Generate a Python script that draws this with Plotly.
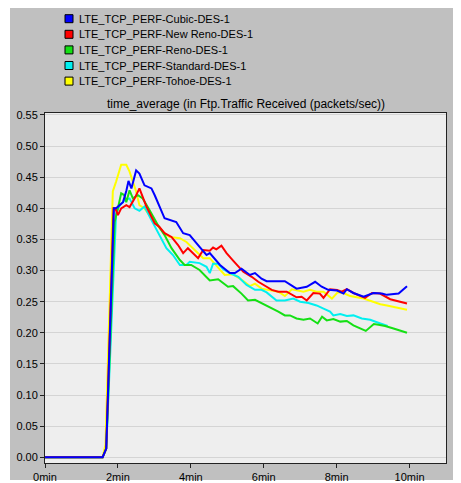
import plotly.graph_objects as go

# ---------------- data ----------------
series_names = [
    "LTE_TCP_PERF-Cubic-DES-1",
    "LTE_TCP_PERF-New Reno-DES-1",
    "LTE_TCP_PERF-Reno-DES-1",
    "LTE_TCP_PERF-Standard-DES-1",
    "LTE_TCP_PERF-Tohoe-DES-1",
]
series_colors = ["#0000ff", "#ff0000", "#14e014", "#00f0f0", "#ffff00"]

cubic_t = [0, 1.58, 1.68, 1.89, 1.95, 2.05, 2.14, 2.23, 2.29, 2.37, 2.50, 2.59, 2.73, 2.92, 3.01,
           3.28, 3.60, 3.79, 3.97, 4.24, 4.43, 4.52, 4.80, 5.07, 5.21, 5.39, 5.62, 5.76, 5.94,
           6.08, 6.31, 6.58, 6.90, 7.18, 7.41, 7.59, 7.77, 8.01, 8.19, 8.28, 8.46, 8.74, 9.01,
           9.24, 9.38, 9.70, 9.93]
cubic_v = [0, 0, 0.014, 0.400, 0.400, 0.405, 0.410, 0.428, 0.444, 0.432, 0.461, 0.456, 0.437, 0.432, 0.421,
           0.384, 0.378, 0.360, 0.357, 0.338, 0.325, 0.328, 0.309, 0.296, 0.296, 0.303, 0.293, 0.296, 0.287,
           0.283, 0.283, 0.283, 0.271, 0.274, 0.282, 0.274, 0.269, 0.268, 0.263, 0.270, 0.264, 0.258, 0.264,
           0.263, 0.261, 0.263, 0.275]

newreno_t = [0, 1.58, 1.68, 1.88, 1.93, 2.00, 2.09, 2.23, 2.32, 2.46, 2.59, 2.78, 3.01, 3.14, 3.28,
             3.47, 3.65, 3.79, 3.92, 4.20, 4.34, 4.52, 4.61, 4.70, 4.84, 4.98, 5.16, 5.44, 5.67, 5.85,
             6.08, 6.22, 6.40, 6.63, 6.90, 7.04, 7.18, 7.36, 7.54, 7.64, 7.82, 8.01, 8.14, 8.28,
             8.46, 8.78, 8.97, 9.19, 9.47, 9.70, 9.93]
newreno_v = [0, 0, 0.014, 0.400, 0.400, 0.389, 0.400, 0.405, 0.402, 0.416, 0.432, 0.403, 0.376, 0.370, 0.360,
             0.354, 0.341, 0.328, 0.336, 0.320, 0.333, 0.332, 0.337, 0.334, 0.340, 0.328, 0.316, 0.298, 0.290, 0.282,
             0.274, 0.269, 0.266, 0.266, 0.257, 0.258, 0.252, 0.264, 0.263, 0.256, 0.270, 0.269, 0.266, 0.270,
             0.264, 0.256, 0.264, 0.263, 0.254, 0.250, 0.247]

reno_t = [0, 1.58, 1.68, 1.91, 2.00, 2.09, 2.18, 2.23, 2.32, 2.41, 2.55, 2.68, 2.87, 3.10, 3.28,
          3.47, 3.70, 3.83, 4.01, 4.24, 4.52, 4.75, 5.02, 5.16, 5.39, 5.57, 5.76, 5.94, 6.17,
          6.40, 6.58, 6.72, 6.90, 7.09, 7.27, 7.48, 7.60, 7.73, 7.91, 8.10, 8.28, 8.46, 8.80,
          9.02, 9.15, 9.33, 9.56, 9.93]
reno_v = [0, 0, 0.014, 0.378, 0.400, 0.424, 0.421, 0.410, 0.429, 0.416, 0.421, 0.416, 0.397, 0.373, 0.357,
          0.336, 0.317, 0.309, 0.309, 0.301, 0.284, 0.286, 0.274, 0.275, 0.263, 0.252, 0.253, 0.248, 0.241,
          0.234, 0.228, 0.228, 0.223, 0.221, 0.223, 0.215, 0.226, 0.220, 0.222, 0.218, 0.219, 0.212, 0.203,
          0.214, 0.213, 0.211, 0.207, 0.200]

standard_t = [0, 1.58, 1.68, 1.93, 1.95, 2.05, 2.18, 2.32, 2.46, 2.59, 2.73, 2.92, 3.14, 3.33, 3.51,
              3.70, 3.88, 3.97, 4.24, 4.43, 4.52, 4.61, 4.75, 4.89, 5.07, 5.30, 5.53, 5.76, 5.94,
              6.08, 6.35, 6.58, 6.81, 7.00, 7.23, 7.45, 7.64, 7.82, 7.91, 8.10, 8.28, 8.46, 8.69,
              8.92, 9.20, 9.40]
standard_v = [0, 0, 0.014, 0.370, 0.392, 0.405, 0.413, 0.416, 0.400, 0.396, 0.403, 0.381, 0.357, 0.336, 0.325,
              0.309, 0.309, 0.314, 0.312, 0.306, 0.296, 0.311, 0.311, 0.302, 0.296, 0.290, 0.277, 0.269, 0.269,
              0.265, 0.252, 0.252, 0.255, 0.250, 0.248, 0.244, 0.239, 0.234, 0.228, 0.230, 0.227, 0.228, 0.223,
              0.221, 0.215, 0.211]

tohoe_t = [0, 1.58, 1.66, 1.84, 1.86, 1.95, 2.09, 2.23, 2.32, 2.41, 2.50, 2.59, 2.73, 2.96, 3.24,
           3.42, 3.70, 3.88, 4.15, 4.34, 4.52, 4.66, 4.93, 5.16, 5.35, 5.62, 5.76, 5.94, 6.13,
           6.40, 6.58, 6.77, 7.09, 7.27, 7.45, 7.64, 7.87, 8.03, 8.19, 8.37, 8.74, 8.92, 9.20,
           9.38, 9.66, 9.93]
tohoe_v = [0, 0, 0.020, 0.400, 0.427, 0.443, 0.470, 0.470, 0.459, 0.443, 0.427, 0.405, 0.400, 0.381, 0.362,
           0.354, 0.352, 0.346, 0.330, 0.320, 0.320, 0.311, 0.293, 0.294, 0.287, 0.275, 0.279, 0.271, 0.269,
           0.266, 0.259, 0.270, 0.266, 0.269, 0.266, 0.266, 0.255, 0.265, 0.264, 0.259, 0.255, 0.251, 0.246,
           0.244, 0.241, 0.237]

x_tick_vals = [0, 2, 4, 6, 8, 10]
x_tick_text = ["0min", "2min", "4min", "6min", "8min", "10min"]
chart_title = "time_average (in Ftp.Traffic Received (packets/sec))"

series_t = [cubic_t, newreno_t, reno_t, standard_t, tohoe_t]
series_v = [cubic_v, newreno_v, reno_v, standard_v, tohoe_v]

# ---------------- layout geometry ----------------
# the page body has an 8px margin, so the figure starts 8px in from the window edge
OFF = 8
W, H = 461 - OFF, 483 - OFF
ML, MT = 45 - OFF, 113 - OFF
PW, PH = 446 - 45, 463 - 113
MR, MB = W - ML - PW, H - MT - PH


def xp(px):
    """window pixel x -> paper coordinate"""
    return (px - OFF - ML) / PW


def yp(py):
    """window pixel y -> paper coordinate"""
    return (MT + PH - (py - OFF)) / PH


FONT = "Liberation Sans, Arial, sans-serif"

fig = go.Figure()

# draw in reverse so Cubic ends on top
for i in reversed(range(len(series_names))):
    fig.add_trace(go.Scatter(
        x=series_t[i], y=series_v[i], mode="lines", name=series_names[i],
        line=dict(color=series_colors[i], width=2), showlegend=False,
        hoverinfo="x+y+name",
    ))

shapes = [
    # gray window background
    dict(type="rect", xref="paper", yref="paper", x0=xp(10), x1=xp(470), y0=yp(480), y1=yp(7),
         fillcolor="#c0c0c0", line=dict(width=0), layer="below"),
    # plot area background
    dict(type="rect", xref="paper", yref="paper", x0=0, x1=1, y0=0, y1=1,
         fillcolor="#eeeeee", line=dict(width=0), layer="below"),
]
annotations = [
    dict(text=chart_title, xref="paper", yref="paper", x=xp(245.5), y=yp(104),
         xanchor="center", yanchor="middle", showarrow=False,
         font=dict(family=FONT, size=12, color="#000000")),
]
row0, row_gap = 18.7, 15.6
for i, name in enumerate(series_names):
    cy = row0 + i * row_gap
    shapes.append(dict(type="rect", xref="paper", yref="paper",
                       x0=xp(65), x1=xp(73), y0=yp(cy + 4), y1=yp(cy - 4),
                       fillcolor=series_colors[i], line=dict(color="#000000", width=1)))
    annotations.append(dict(text=name, xref="paper", yref="paper", x=xp(77), y=yp(cy),
                            xanchor="left", yanchor="middle", showarrow=False,
                            font=dict(family=FONT, size=11, color="#000000")))

fig.update_layout(
    width=W, height=H,
    margin=dict(l=ML, r=MR, t=MT, b=MB, pad=0),
    paper_bgcolor="#ffffff",
    plot_bgcolor="rgba(0,0,0,0)",
    showlegend=False,
    shapes=shapes,
    annotations=annotations,
    font=dict(family=FONT, size=11, color="#000000"),
    xaxis=dict(
        range=[0, 11], tickvals=x_tick_vals, ticktext=x_tick_text,
        showgrid=False, zeroline=False, showline=True, mirror=True,
        linecolor="#222222", linewidth=1, ticks="outside", ticklen=4,
        tickcolor="#222222", automargin=False,
        tickfont=dict(family=FONT, size=11, color="#000000"),
    ),
    yaxis=dict(
        range=[-0.0092, 0.5532], dtick=0.05, tick0=0, tickformat=".2f",
        showgrid=True, gridcolor="#d4d4d4", gridwidth=1, zeroline=False,
        showline=True, mirror=True, linecolor="#222222", linewidth=1,
        ticks="outside", ticklen=4, tickcolor="#222222", automargin=False,
        tickfont=dict(family=FONT, size=11, color="#000000"),
    ),
)

fig.write_html("out.html")
